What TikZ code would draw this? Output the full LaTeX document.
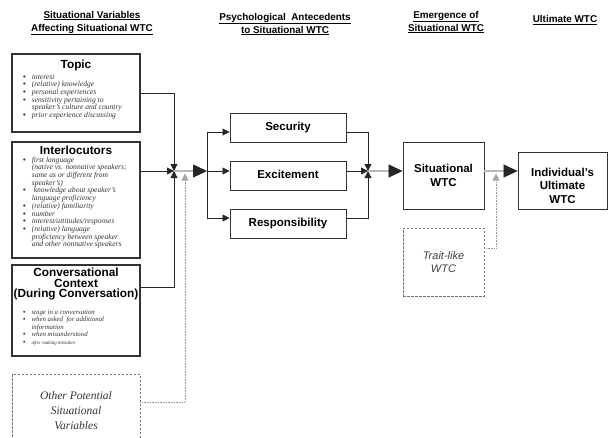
\documentclass[tikz,border=0pt]{standalone}
\usepackage{fontspec}
\setmainfont{Liberation Serif}
\setsansfont{Liberation Sans}
\usetikzlibrary{arrows.meta,calc}
\newcommand{\bul}{\leavevmode{\upshape\sffamily\bfseries\textbullet}}
\begin{document}
\begin{tikzpicture}[x=1pt,y=-1pt,
  hdr/.style={font=\sffamily\bfseries\fontsize{9.9}{13}\selectfont, align=center, inner sep=0pt},
  bigbox/.style={draw=black!80, line width=1.3pt, inner sep=0pt},
  ttl/.style={font=\sffamily\bfseries\fontsize{11.8}{10.8}\selectfont, align=center, inner sep=0pt},
  lst/.style={font=\itshape\fontsize{7.6}{7.7}\selectfont, inner sep=0pt, anchor=north west, text=black!80},
  abox/.style={draw=black!80, line width=0.9pt, font=\sffamily\bfseries\fontsize{11.5}{13.5}\selectfont, align=center, inner sep=0pt},
  btxt/.style={font=\sffamily\bfseries\fontsize{11.5}{13.5}\selectfont, align=center, inner sep=0pt},
  conn/.style={draw=black!85, line width=0.8pt},
  sm/.style={-{Triangle[length=7pt,width=7pt]}},
  big/.style={-{Triangle[length=14pt,width=13pt]}},
  dbl/.style={draw=black!75, line width=0.5pt, double=gray!55, double distance=1.4pt},
  dashbox/.style={draw=black!55, line width=0.8pt, dash pattern=on 2.5pt off 1.5pt},
  gdot/.style={draw=black!40, line width=0.8pt, dash pattern=on 0.8pt off 0.8pt},
  garr/.style={-{Triangle[length=7pt,width=7pt,color=black!35]}}
]
\useasboundingbox (0,0) rectangle (609,437);
\clip (0,0) rectangle (609,437);

% headers
\node[hdr] (h1) at (92,23) {\underline{Situational Variables}\\\underline{Affecting Situational WTC}};
\node[hdr] (h2) at (285,24) {\underline{Psychological\ \ Antecedents}\\\underline{to Situational WTC}};
\node[hdr] (h3) at (446,22) {\underline{Emergence of}\\\underline{Situational WTC}};
\node[hdr] (h4) at (565,20) {\underline{Ultimate WTC}};

% Topic
\node[bigbox, minimum width=128, minimum height=78] (topic) at (76,93) {};
\node[ttl] (topicT) at (76,65) {Topic};
\node[lst] (topicL) at (23,73.6) {\begin{tabular}{@{}l@{\hspace{6pt}}l@{}}
\bul & interest\\
\bul & (relative) knowledge\\
\bul & personal experiences\\
\bul & sensitivity pertaining to\\
 & speaker’s culture and country\\
\bul & prior experience discussing
\end{tabular}};

% Interlocutors
\node[bigbox, minimum width=128, minimum height=116] (inter) at (76,200) {};
\node[ttl] (interT) at (76,150) {Interlocutors};
\node[lst] (interL) at (23,156.6) {\begin{tabular}{@{}l@{\hspace{6pt}}l@{}}
\bul & first language\\
 & (native vs. nonnative speakers;\\
 & same as or different from\\
 & speaker’s)\\
\bul & \ knowledge about speaker’s\\
 & language proficiency\\
\bul & (relative) familiarity\\
\bul & number\\
\bul & interest/attitudes/responses\\
\bul & (relative) language\\
 & proficiency between speaker\\
 & and other nonnative speakers
\end{tabular}};

% Conversational context
\node[bigbox, minimum width=128, minimum height=91] (conv) at (76,310.5) {};
\node[ttl, anchor=north] (convT) at (76,267.5) {Conversational\\Context\\(During Conversation)};
\node[lst, font=\itshape\fontsize{6.8}{7.5}\selectfont] (convL) at (23,308.7) {\begin{tabular}{@{}l@{\hspace{6pt}}l@{}}
\bul & stage in a conversation\\
\bul & when asked\ \ for additional\\
 & information\\
\bul & when misunderstood\\
\bul & {\fontsize{5}{7.5}\selectfont after making mistakes}
\end{tabular}};

% Other potential
\node[dashbox, minimum width=128, minimum height=72, inner sep=0pt] (other) at (76,410) {};
\node[font=\itshape\fontsize{11.5}{15}\selectfont, align=center, inner sep=0pt, text=black!80] (otherT) at (76,411) {Other Potential\\Situational\\Variables};

% junction 1
\coordinate (j1) at (174,171);
\coordinate (s1) at (207,171);
\coordinate (g1) at (185,173.5);
\draw[conn, sm] (topic.east) -| (j1);
\draw[conn, sm] (inter.east |- j1) -- (j1);
\draw[conn, sm] ([yshift=23.5pt]conv.east) -| (j1);
\draw[gdot, garr] ([yshift=8pt]other.east) -| (g1);
\draw[dbl] (j1) -- ([xshift=-13pt]s1);
\draw[conn, big] ([xshift=-14pt]s1) -- (s1);

% antecedents
\node[abox, minimum width=116, minimum height=29] (sec) at (288,127.5) {\raisebox{3pt}{Security}};
\node[abox, minimum width=116, minimum height=29] (exc) at (288,175.5) {\raisebox{3pt}{Excitement}};
\node[abox, minimum width=116, minimum height=29] (resp) at (288,223.5) {\raisebox{3pt}{Responsibility}};
\draw[conn, sm] (s1) |- ([yshift=-4.5pt]sec.west);
\draw[conn, sm] (s1) -- ([yshift=4.5pt]exc.west);
\draw[conn, sm] (s1) |- ([yshift=5.5pt]resp.west);

% junction 2
\coordinate (j2) at (368,171);
\draw[conn, sm] ([yshift=-4.5pt]sec.east) -| (j2);
\draw[conn, sm] ([yshift=4.5pt]exc.east) -- (j2);
\draw[conn, sm] ([yshift=5.5pt]resp.east) -| (j2);

% situational WTC
\node[abox, minimum width=81, minimum height=67] (sit) at (443.5,175.5) {Situational\\WTC};
\draw[dbl] (j2) -- ([xshift=-13pt,yshift=4.5pt]sit.west);
\draw[conn, big] ([xshift=-14pt,yshift=4.5pt]sit.west) -- ([yshift=4.5pt]sit.west);

% trait-like
\node[dashbox, minimum width=81, minimum height=68, inner sep=0pt, font=\sffamily\itshape\fontsize{11}{13}\selectfont, align=center, text=black!75] (trait) at (443.5,262) {Trait-like\\WTC};
\coordinate (g2) at (496,173.5);
\draw[gdot, garr] ([yshift=14pt]trait.east) -| (g2);

% individual
\node[abox, minimum width=89, minimum height=57] (ind) at (562.5,180.5) {};
\node[btxt] (indT) at ([yshift=-5pt]ind.center) {Individual’s\\Ultimate\\WTC};
\draw[dbl] ([yshift=4.5pt]sit.east) -- ([xshift=-13pt,yshift=9.5pt]ind.west);
\draw[conn, big] ([xshift=-14pt,yshift=9.5pt]ind.west) -- ([yshift=9.5pt]ind.west);
\end{tikzpicture}
\end{document}
